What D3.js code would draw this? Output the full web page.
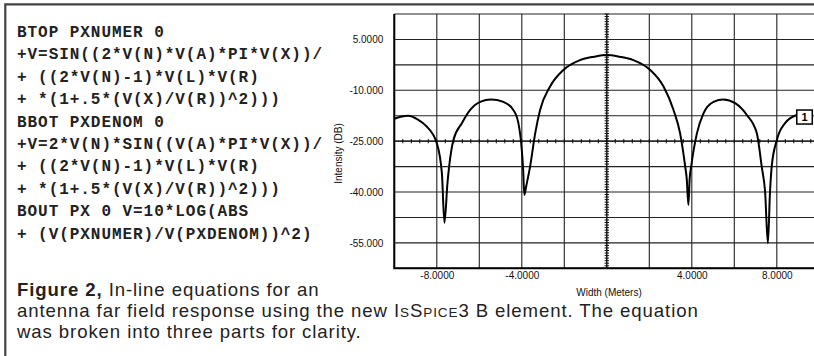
<!DOCTYPE html>
<html>
<head>
<meta charset="utf-8">
<script src="https://cdn.jsdelivr.net/npm/d3@7"></script>
<style>
  body { margin: 0; background: #fff; }
  svg { display: block; }
</style>
</head>
<body>
<div id="viz"></div>
<script>
// netlist lines shown at the left
const codeLines = [
  "BTOP PXNUMER 0",
  "+V=SIN((2*V(N)*V(A)*PI*V(X))/",
  "+ ((2*V(N)-1)*V(L)*V(R)",
  "+ *(1+.5*(V(X)/V(R))^2)))",
  "BBOT PXDENOM 0",
  "+V=2*V(N)*SIN((V(A)*PI*V(X))/",
  "+ ((2*V(N)-1)*V(L)*V(R)",
  "+ *(1+.5*(V(X)/V(R))^2)))",
  "BOUT PX 0 V=10*LOG(ABS",
  "+ (V(PXNUMER)/V(PXDENOM))^2)"
];

// curve: width (m) vs intensity (dB)
const widthVals = [-10, -9.7, -9.34, -8.9, -8.47, -8.0, -7.76, -7.64, -7.5, -7.42, -7.22, -6.82, -6.43, -5.96, -5.44,
  -4.87, -4.4, -4.16, -4.0, -3.94, -3.88, -3.8, -3.61, -3.37, -3.14, -2.67, -2.04, -1.26, -0.6, 0, 0.6, 1.25, 2.04,
  2.67, 3.14, 3.45, 3.69, 3.76, 3.84, 3.9, 3.97, 4.24, 4.55, 5.02, 5.49, 6.04, 6.59, 7.06, 7.29, 7.45, 7.58, 7.68,
  7.76, 8.0, 8.39, 8.94];
const dbVals = [-18.4, -17.8, -17.5, -18.6, -20.7, -25.6, -34.5, -49.1, -37.5, -32.5, -24.7, -19.7, -15.8, -13.4, -12.7,
  -13.4, -15.8, -19.7, -27.6, -33, -40.9, -38.5, -32.5, -22.7, -15.8, -8.9, -4.0, -1.1, -0.1, 0.4, -0.1, -1.1, -4.0,
  -8.9, -15.8, -22.7, -32.5, -36, -43.8, -36, -32.5, -22.7, -16.8, -13.4, -12.7, -13.8, -17.3, -22.7, -32.5, -40,
  -55.1, -40, -32.5, -24.7, -19.7, -17.3];

const xTickVals = [-8, -4, 4, 8];
const xTickLabels = ["-8.0000", "-4.0000", "4.0000", "8.0000"];
const yTickVals = [5, -10, -25, -40, -55];
const yTickLabels = ["5.0000", "-10.000", "-25.000", "-40.000", "-55.000"];

const traceLabel = "1";
const xTitle = "Width (Meters)";
const yTitle = "Intensity (DB)";

const width = 814, height = 356;
const plot = { left: 394.3, right: 819.3, top: 14, bottom: 268.3 };

const svg = d3.select("#viz").append("svg")
  .attr("width", width)
  .attr("height", height)
  .style("background", "#fff");

// outer frame (top and left only, the rest is cut off)
svg.append("path")
  .attr("d", `M5.3,${height} V4.3 H${width}`)
  .attr("fill", "none")
  .attr("stroke", "#444")
  .attr("stroke-width", 2.2);

// code text
const code = svg.append("g")
  .attr("font-family", "'Courier New', 'Liberation Mono', monospace")
  .attr("font-weight", "bold")
  .attr("font-size", 16)
  .attr("letter-spacing", "0.95px")
  .attr("fill", "#222");

code.selectAll("text")
  .data(codeLines)
  .join("text")
  .attr("x", 17)
  .attr("y", (d, i) => 37 + i * 22.4)
  .attr("xml:space", "preserve")
  .style("white-space", "pre")
  .text(d => d);

// scales
const x = d3.scaleLinear().domain([-10, 10]).range([plot.left, plot.right]);
const y = d3.scaleLinear().domain([-62.5, 12.5]).range([plot.bottom, plot.top]);

const grid = svg.append("g").attr("stroke", "#222").attr("stroke-width", 1.1);

grid.selectAll(".vg")
  .data(d3.range(-10, 10.01, 2))
  .join("line")
  .attr("x1", d => x(d)).attr("x2", d => x(d))
  .attr("y1", plot.top).attr("y2", plot.bottom);

grid.selectAll(".hg")
  .data(d3.range(-62.5, 12.51, 7.5))
  .join("line")
  .attr("x1", plot.left).attr("x2", plot.right)
  .attr("y1", d => y(d)).attr("y2", d => y(d));

// center axes with minor ticks
const axes = svg.append("g").attr("stroke", "#111").attr("stroke-width", 1);
axes.append("line")
  .attr("x1", x(0)).attr("x2", x(0))
  .attr("y1", plot.top).attr("y2", plot.bottom);
axes.append("line")
  .attr("x1", plot.left).attr("x2", plot.right)
  .attr("y1", y(-25)).attr("y2", y(-25));

axes.selectAll(".xt")
  .data(d3.range(-10, 10.001, 0.4))
  .join("line")
  .attr("x1", d => x(d)).attr("x2", d => x(d))
  .attr("y1", y(-25) - 2.2).attr("y2", y(-25) + 2.2);

axes.selectAll(".yt")
  .data(d3.range(-62.5, 12.51, 0.75))
  .join("line")
  .attr("x1", x(0) - 2.2).attr("x2", x(0) + 2.2)
  .attr("y1", d => y(d)).attr("y2", d => y(d));

// plot frame, left and bottom heavier
svg.append("path")
  .attr("d", `M${plot.left},${plot.top} V${plot.bottom} H${plot.right}`)
  .attr("fill", "none")
  .attr("stroke", "#000")
  .attr("stroke-width", 2);

// tick labels
const xAxis = svg.append("g")
  .attr("transform", `translate(0,${plot.bottom})`)
  .call(d3.axisBottom(x).tickValues(xTickVals).tickFormat((d, i) => xTickLabels[i]).tickSize(0).tickPadding(4));
const yAxis = svg.append("g")
  .attr("transform", `translate(${plot.left},0)`)
  .call(d3.axisLeft(y).tickValues(yTickVals).tickFormat((d, i) => yTickLabels[i]).tickSize(0).tickPadding(11));

[xAxis, yAxis].forEach(a => {
  a.select(".domain").remove();
  a.selectAll("text")
    .attr("font-family", "Arial, 'Liberation Sans', Helvetica, sans-serif")
    .attr("font-size", 10)
    .attr("fill", "#111");
});

svg.append("text")
  .attr("x", 609)
  .attr("y", 295.5)
  .attr("text-anchor", "middle")
  .attr("font-family", "Arial, 'Liberation Sans', sans-serif")
  .attr("font-size", 10)
  .attr("fill", "#111")
  .text(xTitle);

svg.append("text")
  .attr("transform", `translate(341.5,153.5) rotate(-90)`)
  .attr("text-anchor", "middle")
  .attr("font-family", "Arial, 'Liberation Sans', sans-serif")
  .attr("font-size", 10)
  .attr("fill", "#111")
  .text(yTitle);

// the trace
const pts = widthVals.map((w, i) => ({ w: w, db: dbVals[i] }));

svg.append("defs").append("clipPath").attr("id", "clip")
  .append("rect")
  .attr("x", plot.left).attr("y", plot.top)
  .attr("width", plot.right - plot.left).attr("height", plot.bottom - plot.top);

svg.append("path")
  .datum(pts)
  .attr("clip-path", "url(#clip)")
  .attr("fill", "none")
  .attr("stroke", "#000")
  .attr("stroke-width", 2)
  .attr("stroke-linejoin", "round")
  .attr("d", d3.line().x(d => x(d.w)).y(d => y(d.db)).curve(d3.curveMonotoneX));

// trace number tag at the end of the curve
const last = pts[pts.length - 1];
const tag = svg.append("g").attr("transform", `translate(${x(last.w)},${y(last.db) + 2})`);
tag.append("rect")
  .attr("x", 0).attr("y", -7)
  .attr("width", 15.5).attr("height", 14)
  .attr("fill", "#fff")
  .attr("stroke", "#000")
  .attr("stroke-width", 1.5);
tag.append("text")
  .attr("x", 7.8).attr("y", 4)
  .attr("text-anchor", "middle")
  .attr("font-family", "Arial, 'Liberation Sans', sans-serif")
  .attr("font-weight", "bold")
  .attr("font-size", 11)
  .text(traceLabel);

// caption
const cap = svg.append("g")
  .attr("font-family", "Arial, 'Liberation Sans', Helvetica, sans-serif")
  .attr("font-size", 18.6)
  .attr("letter-spacing", "0.9px")
  .attr("fill", "#222");

const l1 = cap.append("text").attr("x", 17).attr("y", 296);
l1.append("tspan").attr("font-weight", "bold").text("Figure 2,");
l1.append("tspan").text(" In-line equations for an");

const l2 = cap.append("text").attr("x", 17).attr("y", 317);
l2.append("tspan").text("antenna far field response using the new I");
l2.append("tspan").attr("font-size", 13.5).text("S");
l2.append("tspan").text("S");
l2.append("tspan").attr("font-size", 13.5).text("PICE");
l2.append("tspan").text("3 B element. The equation");

cap.append("text").attr("x", 17).attr("y", 338).text("was broken into three parts for clarity.");
</script>
</body>
</html>
